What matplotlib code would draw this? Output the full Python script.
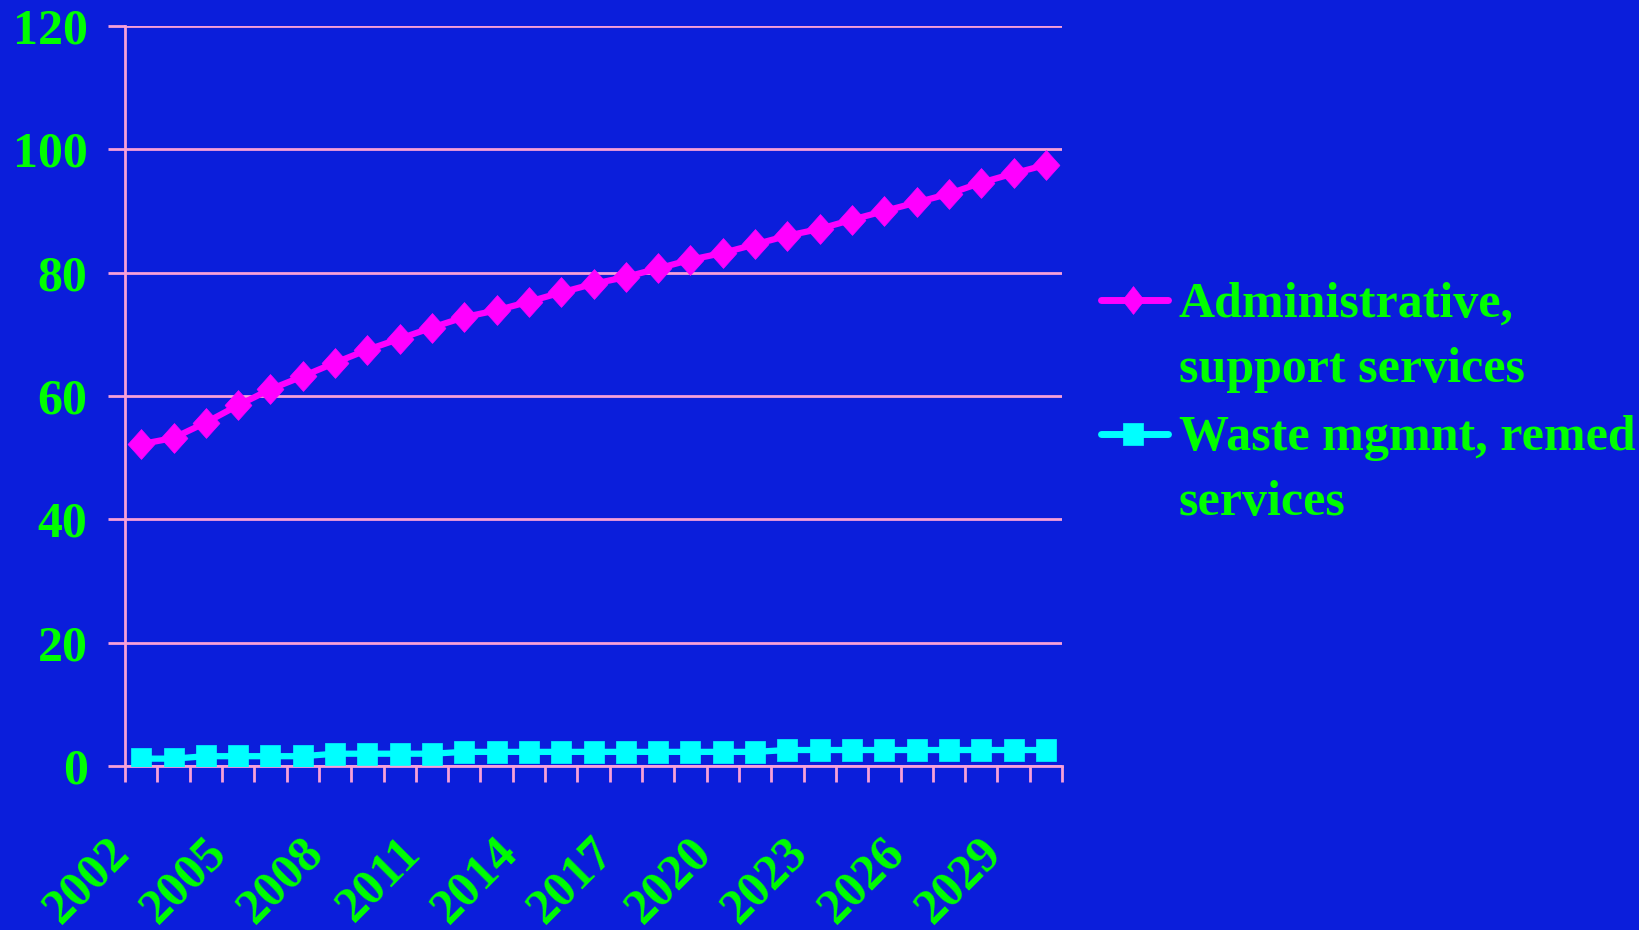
import numpy as np
import matplotlib
matplotlib.use('Agg')
import matplotlib.pyplot as plt
import matplotlib.transforms as mtransforms
from matplotlib.lines import Line2D

years = list(range(2002, 2031))
admin_support = [52.2, 53.2, 55.7, 58.5, 61.1, 63.2, 65.4, 67.5, 69.3, 71.1,
                 72.8, 73.9, 75.3, 76.8, 78.2, 79.3, 80.7, 82.1, 83.2, 84.6,
                 86.0, 87.1, 88.6, 90.0, 91.4, 92.8, 94.6, 96.1, 97.5]
waste_remed = [1.2, 1.2, 1.6, 1.6, 1.6, 1.6, 2.0, 2.0, 2.0, 2.0,
               2.3, 2.3, 2.3, 2.3, 2.3, 2.3, 2.3, 2.3, 2.3, 2.3,
               2.6, 2.6, 2.6, 2.6, 2.6, 2.6, 2.6, 2.6, 2.6]
series_names = ['Administrative,\nsupport services', 'Waste mgmnt, remed\nservices']

bg = '#0B1EDB'
pink = '#F8A0D8'
green = '#00FF00'
magenta = '#FF00FF'
cyan = '#00FFFF'
font = 'Liberation Serif'

# slightly tall diamond and square, as in the original
diamond = [(0, 1), (0.9, 0), (0, -1), (-0.9, 0), (0, 1)]
square = [(-0.9, -1), (0.9, -1), (0.9, 1), (-0.9, 1), (-0.9, -1)]

fig = plt.figure(figsize=(16.39, 9.30), dpi=100, facecolor=bg)
ax = fig.add_axes([0.0763, 0.1763, 0.5717, 0.7957], facecolor=bg)

x = np.arange(len(years))
ax.plot(x, admin_support, color=magenta, lw=4.5, marker=diamond, ms=21.5,
        mec=magenta, mfc=magenta, mew=0.5, zorder=3)
ax.plot(x, waste_remed, color=cyan, lw=4.5, marker=square, ms=16.5,
        mec=cyan, mfc=cyan, mew=0.5, zorder=3)

ax.set_xlim(-0.5, len(years) - 0.5)
ax.set_ylim(0, 120)
ax.set_yticks(range(0, 121, 20))
ax.yaxis.grid(True, color=pink, lw=2)
ax.set_axisbelow(True)

# category labels every third year, tick marks between categories
ax.set_xticks(x[::3])
ax.set_xticklabels([str(y) for y in years[::3]])
ax.set_xticks(np.arange(-0.5, len(years), 1), minor=True)
ax.tick_params(axis='x', which='major', length=0, pad=42)
ax.tick_params(axis='x', which='minor', length=11.5, width=2, color=pink, direction='out')
ax.tick_params(axis='y', length=12, width=2, color=pink, pad=15)

shift = mtransforms.ScaledTranslation(-0.35, -0.05, fig.dpi_scale_trans)
for lab in ax.get_xticklabels():
    lab.set_rotation(45)
    lab.set_ha('right')
    lab.set_va('top')
    lab.set_rotation_mode('anchor')
    lab.set_transform(lab.get_transform() + shift)
for lab in ax.get_xticklabels() + ax.get_yticklabels():
    lab.set_fontfamily(font)
    lab.set_fontweight('bold')
    lab.set_fontsize(36)
    lab.set_color(green)

for side in ['top', 'right']:
    ax.spines[side].set_visible(False)
for side in ['left', 'bottom']:
    ax.spines[side].set_color(pink)
    ax.spines[side].set_linewidth(2)

# legend drawn by hand so the key sits on the first text line
legend_rows = [(0.6774, 0.5892, magenta, diamond, 20, 0.78),
               (0.5333, 0.4462, cyan, square, 16, 0.9)]
for name, (yh, yt, c, m, s, asp) in zip(series_names, legend_rows):
    fig.add_artist(Line2D([0.6720, 0.7125], [yh, yh], transform=fig.transFigure,
                          color=c, lw=5, solid_capstyle='round'))
    mk = [(px * asp / 0.9 if m is diamond else px, py) for px, py in m]
    fig.add_artist(Line2D([0.6913], [yh], transform=fig.transFigure,
                          marker=mk, ms=s, color=c, mew=0.5, lw=0))
    fig.text(0.7193, yt, name, fontfamily=font, fontweight='bold', fontsize=36,
             color=green, va='baseline', ha='left', linespacing=1.55)

fig.savefig('out.png', dpi=100, facecolor=bg)
